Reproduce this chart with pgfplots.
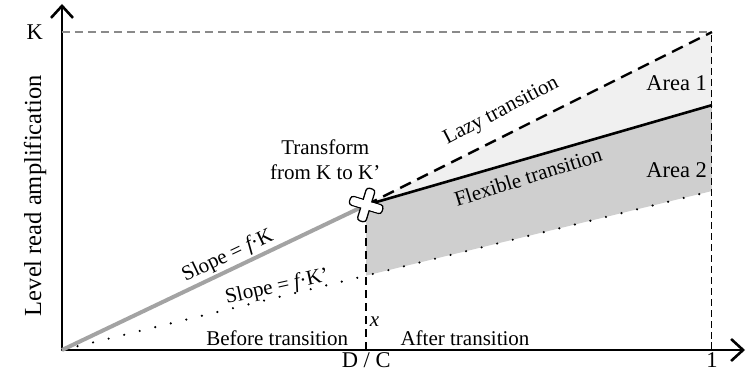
\documentclass[border=0pt]{standalone}
\usepackage{fontspec}
\setmainfont{Liberation Serif}
\usepackage{pgfplots}
\pgfplotsset{compat=1.18}
\usetikzlibrary{arrows.meta}
\definecolor{areaone}{HTML}{F0F0F0}
\definecolor{areatwo}{HTML}{CFCFCF}
\definecolor{slopegray}{HTML}{A3A3A3}
\definecolor{kline}{HTML}{8A8A8A}

% white cross with black outline, for the transform point
\pgfdeclareplotmark{tcross}{%
  \pgfsetcornersarced{\pgfpoint{3pt}{3pt}}%
  \pgfpathrectangle{\pgfpoint{-17pt}{-4.5pt}}{\pgfpoint{34pt}{9pt}}%
  \pgfusepath{fill,stroke}%
  \pgfpathrectangle{\pgfpoint{-4.5pt}{-17pt}}{\pgfpoint{9pt}{34pt}}%
  \pgfusepath{fill,stroke}%
  \pgfpathrectangle{\pgfpoint{-16pt}{-3.9pt}}{\pgfpoint{32pt}{7.8pt}}%
  \pgfusepath{fill}%
}

\begin{document}
\begin{tikzpicture}[font=\fontsize{21}{25}\selectfont]
\begin{axis}[
  scale only axis,
  width=683pt, height=346pt,
  xmin=0, xmax=1.0508, ymin=0, ymax=1.088,
  axis lines=left,
  axis line style={line width=2.6pt, -{Straight Barb[length=12pt,width=22pt,line width=2.6pt]}},
  xtick={0.468,1}, xticklabels={D / C, 1},
  ytick={1}, yticklabels={K},
  tick align=inside,
  major tick length=8pt,
  tick style={black, line width=1pt},
  ticklabel style={font=\fontsize{22.5}{25}\selectfont},
  xticklabel style={inner sep=1pt, yshift=-1pt},
  yticklabel style={inner sep=1pt, xshift=-18pt},
  ylabel={Level read amplification},
  ylabel style={font=\fontsize{24.5}{28}\selectfont,
                at={(axis description cs:-0.0395,0.446)}, anchor=center},
  clip=false,
]
% areas
\addplot[fill=areaone, draw=none] coordinates
  {(0.468,0.456) (1,1) (1,0.770)} -- cycle;
\addplot[fill=areatwo, draw=none] coordinates
  {(0.468,0.456) (1,0.770) (1,0.5) (0.468,0.234)} -- cycle;

% guide lines
\addplot[kline, line width=1.2pt, dash pattern=on 8pt off 5pt] coordinates {(0,1) (1,1)};
\addplot[black, line width=1pt, dash pattern=on 7pt off 4pt] coordinates {(1,0) (1,1)};
\addplot[black, line width=2pt, dash pattern=on 8pt off 5pt] coordinates {(0.468,0) (0.468,0.456)};

% transitions
\addplot[black, line width=2.4pt, line cap=round, dash pattern=on 0pt off 16pt] coordinates {(0,0) (1,0.5)};
\addplot[slopegray, line width=4pt] coordinates {(0,0) (0.468,0.456)};
\addplot[black, line width=2.4pt, dash pattern=on 12pt off 7pt] coordinates {(0.468,0.456) (1,1)};
\addplot[black, line width=2.6pt] coordinates {(0.468,0.456) (1,0.770)};

% transform point
\addplot[only marks, mark=tcross,
  mark options={draw=black, fill=white, line width=1.3pt, rotate=-17}] coordinates {(0.468,0.456)};

% labels
\node[align=center] at (axis cs:0.405,0.597) {Transform\\from K to K’};
\node[rotate=25.5] at (axis cs:0.255,0.295) {Slope = {\itshape f}·K};
\node[rotate=12.5] at (axis cs:0.331,0.197) {Slope = {\itshape f}·K’};
\node[rotate=27.5] at (axis cs:0.676,0.750) {Lazy transition};
\node[rotate=17.5] at (axis cs:0.717,0.544) {Flexible transition};
\node[anchor=east, font=\fontsize{22.5}{25}\selectfont, inner sep=1pt] at (axis cs:0.994,0.840) {Area 1};
\node[anchor=east, font=\fontsize{22.5}{25}\selectfont, inner sep=1pt] at (axis cs:0.994,0.566) {Area 2};
\node at (axis cs:0.331,0.038) {Before transition};
\node at (axis cs:0.620,0.038) {After transition};
\node at (axis cs:0.481,0.088) {\itshape x};
\coordinate (O) at (axis cs:0,0);
\end{axis}
\path ([shift={(-62pt,-40pt)}]O) rectangle ([shift={(685pt,350pt)}]O);
\end{tikzpicture}
\end{document}
